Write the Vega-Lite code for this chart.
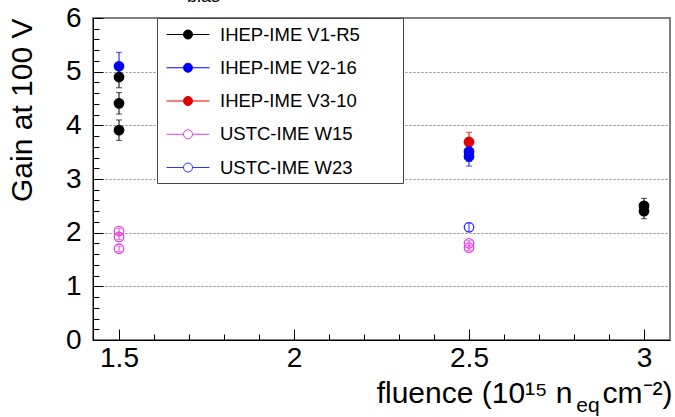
{
  "$schema": "https://vega.github.io/schema/vega-lite/v6.json",
  "width": 577,
  "height": 322,
  "autosize": {"type": "none"},
  "padding": {"left": 93, "top": 18, "right": 5, "bottom": 77},
  "background": "white",
  "config": {"view": {"stroke": "#555", "strokeWidth": 1.5}, "font": "Liberation Sans"},
  "title": {"text": "bias", "frame": "group", "anchor": "start", "dx": 94, "dy": 10, "offset": -6, "baseline": "alphabetic", "fontSize": 18, "fontWeight": "normal", "color": "black", "font": "Liberation Sans"},
  "data": {
    "values": [
      {"series": "USTC-IME W15", "fluence": 1.5, "gain": 2.03, "lo": 1.98, "hi": 2.08},
      {"series": "USTC-IME W15", "fluence": 1.5, "gain": 1.92, "lo": 1.87, "hi": 1.97},
      {"series": "USTC-IME W15", "fluence": 1.5, "gain": 1.70, "lo": 1.65, "hi": 1.75},
      {"series": "USTC-IME W15", "fluence": 2.5, "gain": 1.80, "lo": 1.75, "hi": 1.85},
      {"series": "USTC-IME W15", "fluence": 2.5, "gain": 1.72, "lo": 1.67, "hi": 1.77},
      {"series": "USTC-IME W23", "fluence": 2.5, "gain": 2.10, "lo": 2.02, "hi": 2.18},
      {"series": "IHEP-IME V3-10", "fluence": 2.5, "gain": 3.69, "lo": 3.51, "hi": 3.87},
      {"series": "IHEP-IME V2-16", "fluence": 1.5, "gain": 5.10, "lo": 4.85, "hi": 5.36},
      {"series": "IHEP-IME V2-16", "fluence": 2.5, "gain": 3.51, "lo": 3.33, "hi": 3.69},
      {"series": "IHEP-IME V2-16", "fluence": 2.5, "gain": 3.42, "lo": 3.24, "hi": 3.60},
      {"series": "IHEP-IME V1-R5", "fluence": 1.5, "gain": 3.91, "lo": 3.72, "hi": 4.10},
      {"series": "IHEP-IME V1-R5", "fluence": 1.5, "gain": 4.41, "lo": 4.21, "hi": 4.61},
      {"series": "IHEP-IME V1-R5", "fluence": 1.5, "gain": 4.90, "lo": 4.70, "hi": 5.10},
      {"series": "IHEP-IME V1-R5", "fluence": 3.0, "gain": 2.40, "lo": 2.26, "hi": 2.54},
      {"series": "IHEP-IME V1-R5", "fluence": 3.0, "gain": 2.50, "lo": 2.36, "hi": 2.64}
    ]
  },
  "layer": [
    {
      "mark": {"type": "rule", "strokeWidth": 1},
      "encoding": {
        "x": {"field": "fluence", "type": "quantitative", "scale": {"domain": [1.4257, 3.0743], "nice": false, "zero": false},
          "axis": {"orient": "bottom", "values": [1.5,1.6,1.7,1.8,1.9,2.0,2.1,2.2,2.3,2.4,2.5,2.6,2.7,2.8,2.9,3.0], "labels": false, "tickSize": -6, "tickColor": "black", "domain": false, "grid": false, "title": null}},
        "y": {"field": "lo", "type": "quantitative", "scale": {"domain": [0, 6], "nice": false, "zero": false},
          "axis": {"orient": "left", "values": [0,0.2,0.4,0.6,0.8,1,1.2,1.4,1.6,1.8,2,2.2,2.4,2.6,2.8,3,3.2,3.4,3.6,3.8,4,4.2,4.4,4.6,4.8,5,5.2,5.4,5.6,5.8,6], "labels": false, "tickSize": -6, "tickColor": "black", "domain": false, "grid": false, "title": null}},
        "y2": {"field": "hi"},
        "color": {"field": "series", "type": "nominal",
          "scale": {"range": ["#000000", "#0000ff", "#e00000", "#e040e0", "#3030ff"]},
          "legend": null}
      }
    },
    {
      "mark": {"type": "tick", "orient": "horizontal", "size": 6, "thickness": 1},
      "encoding": {
        "x": {"field": "fluence", "type": "quantitative", "axis": null},
        "y": {"field": "lo", "type": "quantitative", "axis": null},
        "color": {"field": "series", "type": "nominal", "legend": null}
      }
    },
    {
      "mark": {"type": "tick", "orient": "horizontal", "size": 6, "thickness": 1},
      "encoding": {
        "x": {"field": "fluence", "type": "quantitative", "axis": null},
        "y": {"field": "hi", "type": "quantitative", "axis": null},
        "color": {"field": "series", "type": "nominal", "legend": null}
      }
    },
    {
      "mark": {"type": "point", "size": 90, "strokeWidth": 1.3, "opacity": 1},
      "encoding": {
        "x": {"field": "fluence", "type": "quantitative",
          "axis": {"orient": "bottom", "values": [1.5, 2, 2.5, 3], "format": "~g", "tickSize": -11, "tickColor": "black", "domainColor": "black", "domainWidth": 1, "grid": false,
            "labelPadding": 15, "labelFontSize": 28, "labelFont": "Liberation Sans", "labelColor": "black", "labelFlush": false, "labelOverlap": false,
            "title": "fluence (10¹⁵ n\u2003cm⁻²)", "titleFont": "Liberation Sans", "titleFontSize": 30, "titleFontWeight": "normal", "titleColor": "black",
            "titleX": 579, "titleY": 62, "titleAlign": "right", "titleBaseline": "alphabetic"}},
        "y": {"field": "gain", "type": "quantitative",
          "axis": {"orient": "left", "values": [0, 1, 2, 3, 4, 5, 6], "format": "d", "tickSize": -10, "tickColor": "black", "domainColor": "black", "domainWidth": 1,
            "grid": true, "gridDash": [2, 2], "gridColor": "#888", "gridWidth": 1,
            "labelPadding": 22, "labelFontSize": 28, "labelFont": "Liberation Sans", "labelColor": "black", "labelFlush": false, "labelOverlap": false,
            "title": "Gain at 100 V", "titleFont": "Liberation Sans", "titleFontSize": 30, "titleFontWeight": "normal", "titleColor": "black",
            "titleX": -62, "titleY": 0, "titleAlign": "right", "titleAngle": -90, "titleBaseline": "alphabetic"}},
        "stroke": {"field": "series", "type": "nominal",
          "scale": {"domain": ["IHEP-IME V1-R5", "IHEP-IME V2-16", "IHEP-IME V3-10", "USTC-IME W15", "USTC-IME W23"], "range": ["#000000", "#0000ff", "#e00000", "#e040e0", "#3030ff"]},
          "legend": {"orient": "none", "legendX": 64, "legendY": 0, "title": "\u00a0", "titleOrient": "right", "titlePadding": 37, "titleFontSize": 10, "padding": 6, "rowPadding": 13.25, "symbolSize": 400, "symbolStrokeWidth": 1,
            "symbolType": "M-0.7,0H1M1.9,0H3.6M1,0A0.45,0.45 0 1,0 1.9,0A0.45,0.45 0 1,0 1,0Z",
            "labelFont": "Liberation Sans", "labelFontSize": 18.5, "labelColor": "black", "labelOffset": 36, "labelLimit": 400,
            "strokeColor": "#444", "fillColor": "white"}},
        "fill": {"field": "series", "type": "nominal",
          "scale": {"domain": ["IHEP-IME V1-R5", "IHEP-IME V2-16", "IHEP-IME V3-10", "USTC-IME W15", "USTC-IME W23"], "range": ["#000000", "#0000ff", "#e00000", "transparent", "transparent"]},
          "legend": {"orient": "none", "legendX": 64, "legendY": 0, "title": "\u00a0", "titleOrient": "right", "titlePadding": 37, "titleFontSize": 10, "padding": 6, "rowPadding": 13.25, "symbolSize": 400, "symbolStrokeWidth": 1,
            "symbolType": "M-0.7,0H1M1.9,0H3.6M1,0A0.45,0.45 0 1,0 1.9,0A0.45,0.45 0 1,0 1,0Z",
            "labelFont": "Liberation Sans", "labelFontSize": 18.5, "labelColor": "black", "labelOffset": 36, "labelLimit": 400,
            "strokeColor": "#444", "fillColor": "white"}}
      }
    },
    {
      "data": {"values": [{"sub": "eq"}]},
      "mark": {"type": "text", "fontSize": 21, "font": "Liberation Sans", "baseline": "alphabetic", "align": "center", "color": "black"},
      "encoding": {
        "x": {"datum": 2.84, "type": "quantitative", "axis": null},
        "y": {"datum": -1.35, "type": "quantitative", "axis": null},
        "text": {"field": "sub", "type": "nominal"}
      }
    }
  ],
  "resolve": {"axis": {"x": "independent", "y": "independent"}}
}
